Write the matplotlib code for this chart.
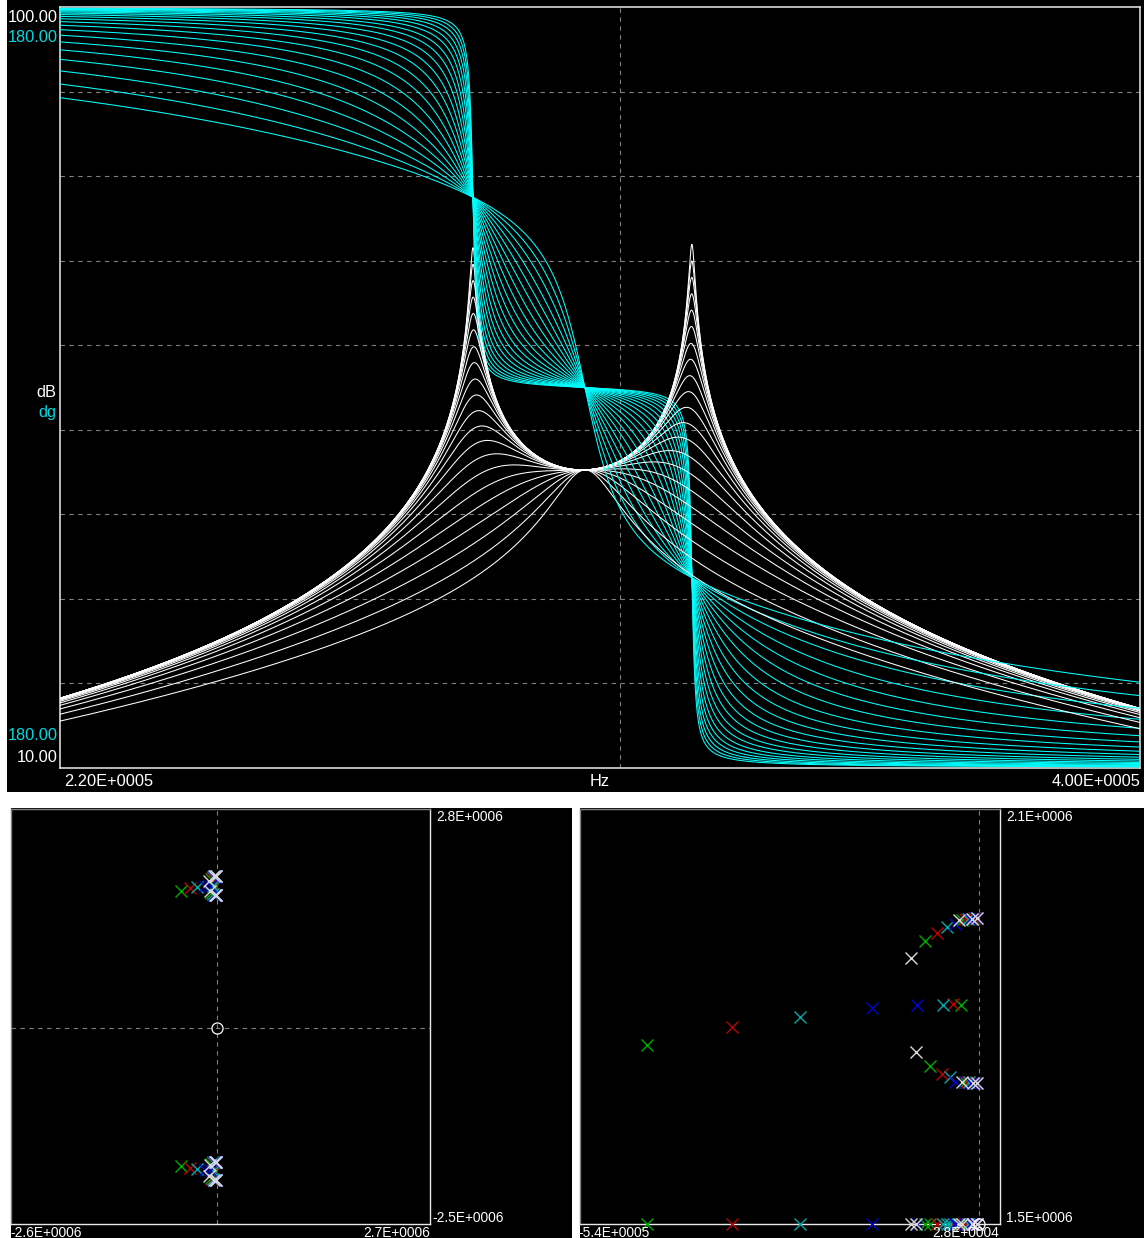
#!/usr/bin/env python3
"""Resonator sweep: magnitude/phase family plus pole maps."""

import numpy as np
import matplotlib

matplotlib.use("Agg")
import matplotlib.pyplot as plt
from matplotlib.patches import Rectangle

plt.rcParams["font.family"] = ["Liberation Sans", "DejaVu Sans"]

# ---- top panel: response family (frequencies) ----
F_START, F_STOP, F_GRID = 2.2e5, 4.0e5, 3.0e5      # Hz
W_LOW, W_HIGH, W_MID = 1.7373, 1.9612, 1.8484      # Mrad/s: peaks and fixed point
GAIN = 9.17                                        # sets 45 dB at the fixed point
# damping of each curve (Mrad/s), read from the phase spread at the left edge
DAMPING = [0.0106, 0.0133, 0.0166, 0.0208, 0.026, 0.0325, 0.041, 0.051,
           0.064, 0.080, 0.100, 0.125, 0.156, 0.195, 0.244, 0.305, 0.38,
           0.475, 0.60, 0.76, 0.957]
DB_RANGE = (10, 100)
DEG_RANGE = (-180, 180)

# ---- bottom panels: poles (rad/s), upper half plane, by colour ----
WHITE_RE = [-91.7e3, -27.8e3, -10e3, -3e3, -86e3, -24e3, -9e3, -3e3]
WHITE_IM = [1.885e6, 1.939e6, 1.941e6, 1.942e6, 1.748e6, 1.706e6, 1.704e6, 1.704e6]
GREEN_RE = [-73.8e3, -23e3, -8e3, -66.7e3, -20e3, -7.5e3, -450e3, -25e3]
GREEN_IM = [1.909e6, 1.940e6, 1.941e6, 1.728e6, 1.705e6, 1.704e6, 1.759e6, 1.817e6]
RED_RE = [-57.8e3, -19e3, -6.5e3, -50e3, -17e3, -6e3, -335e3, -36e3]
RED_IM = [1.921e6, 1.941e6, 1.942e6, 1.717e6, 1.705e6, 1.704e6, 1.785e6, 1.818e6]
CYAN_RE = [-44.3e3, -15.5e3, -5e3, -40e3, -14e3, -5e3, -242e3, -49e3]
CYAN_IM = [1.929e6, 1.941e6, 1.942e6, 1.713e6, 1.705e6, 1.704e6, 1.800e6, 1.817e6]
BLUE_RE = [-32.8e3, -12.5e3, -4e3, -32.8e3, -11.5e3, -4e3, -145e3, -84e3]
BLUE_IM = [1.934e6, 1.941e6, 1.942e6, 1.706e6, 1.704e6, 1.704e6, 1.812e6, 1.816e6]
ZERO_RE, ZERO_IM = [0.0], [0.0]

FULL_X, FULL_Y = (-2.6e6, 2.7e6), (-2.5e6, 2.8e6)
ZOOM_X, ZOOM_Y = (-5.4e5, 2.8e4), (1.5e6, 2.1e6)

W, H = 1144, 1238
GRID = dict(color="#808080", linewidth=0.8, linestyle=(0, (4, 4)))
CYAN_TXT = "#00d8e0"


def box(x0, y0, x1, y1):
    """pixel box -> figure fraction rect"""
    return [x0 / W, 1 - y1 / H, (x1 - x0) / W, (y1 - y0) / H]


def label(fig, x, y, s, color="white", size=11.8, ha="left"):
    fig.text(x / W, 1 - y / H, s, color=color, fontsize=size, ha=ha, va="center")


def style_frame(ax, light="#e8e8e8", dark="#808080"):
    ax.set_facecolor("black")
    ax.set_xticks([])
    ax.set_yticks([])
    for side in ("top", "left"):
        ax.spines[side].set_color(dark)
    for side in ("bottom", "right"):
        ax.spines[side].set_color(light)
    for sp in ax.spines.values():
        sp.set_linewidth(1.0)


fig = plt.figure(figsize=(W / 100, H / 100), dpi=100, facecolor="white")
for rect in (box(7, 0, 1144, 792), box(11, 808, 572, 1238), box(580, 808, 1144, 1238)):
    fig.patches.append(Rectangle(rect[:2], rect[2], rect[3], transform=fig.transFigure,
                                 facecolor="black", edgecolor="none", zorder=-5))

# ---------------- top: magnitude + phase ----------------
ax = fig.add_axes(box(60, 7, 1140, 768))
ax.set_facecolor("black")
ax.set_xscale("log")
ax.set_xlim(F_START, F_STOP)
ax.set_ylim(*DB_RANGE)
ax.set_yticks(np.arange(20, 100, 10))
ax.set_xticks([F_GRID])
ax.minorticks_off()
ax.tick_params(length=0, labelleft=False, labelbottom=False)
ax.grid(True, **GRID)
for sp in ax.spines.values():
    sp.set_color("#d8d8d8")
    sp.set_linewidth(1.2)

ax_ph = ax.twinx()
ax_ph.set_ylim(*DEG_RANGE)
ax_ph.axis("off")

freq = np.geomspace(F_START, F_STOP, 4000)
s = 1j * 2 * np.pi * freq / 1e6
for i, g in enumerate(DAMPING):
    den = (s**2 + W_LOW**2) * (s**2 + W_HIGH**2) + g * s * (s**2 + W_MID**2)
    resp = GAIN * s**2 / den
    mag = 20 * np.log10(np.abs(resp))
    ph = np.degrees(np.angle(resp))
    ax.plot(freq, mag, color="white", linewidth=0.75, zorder=3 + 2 * i)
    ax.plot(freq, ph, color="#00ffff", linewidth=0.75, zorder=4 + 2 * i,
            transform=ax_ph.transData)

label(fig, 58, 17, "100.00", ha="right")
label(fig, 58, 38, "180.00", color=CYAN_TXT, ha="right")
label(fig, 56, 392, "dB", ha="right")
label(fig, 56, 413, "dg", color=CYAN_TXT, ha="right")
label(fig, 58, 736, "180.00", color=CYAN_TXT, ha="right")
label(fig, 58, 758, "10.00", ha="right")
label(fig, 64, 781, "2.20E+0005")
label(fig, 600, 781, "Hz", ha="center")
label(fig, 1141, 781, "4.00E+0005", ha="right")

# ---------------- bottom: pole maps ----------------
groups = [
    (GREEN_RE, GREEN_IM, "#00a800"),
    (RED_RE, RED_IM, "#b80000"),
    (CYAN_RE, CYAN_IM, "#00a8a8"),
    (BLUE_RE, BLUE_IM, "#0000d0"),
    (WHITE_RE, WHITE_IM, "#d8d8d8"),
]


def pole_map(ax, xlim, ylim):
    style_frame(ax)
    ax.set_xlim(*xlim)
    ax.set_ylim(*ylim)
    ax.axvline(0, zorder=1, **GRID)
    ax.axhline(np.clip(0, *ylim), zorder=1, **GRID)
    for re, im, c in groups:
        re = np.array(re)
        im = np.array(im)
        xs = np.concatenate([re, re])
        ys = np.clip(np.concatenate([im, -im]), *ylim)
        ax.plot(xs, ys, "x", color=c, markersize=9, markeredgewidth=1.0,
                linestyle="none", clip_on=False, zorder=3)
    ax.plot(ZERO_RE, np.clip(ZERO_IM, *ylim), "o", markerfacecolor="none",
            markeredgecolor="white", markersize=8, markeredgewidth=0.9,
            clip_on=False, zorder=4)


ax_full = fig.add_axes(box(11, 809, 430, 1224))
pole_map(ax_full, FULL_X, FULL_Y)
label(fig, 436, 817, "2.8E+0006", size=9.9)
label(fig, 432, 1218, "-2.5E+0006", size=9.9)
label(fig, 10, 1233, "-2.6E+0006", size=9.9)
label(fig, 430, 1233, "2.7E+0006", size=9.9, ha="right")

ax_zoom = fig.add_axes(box(580, 809, 1000, 1224))
pole_map(ax_zoom, ZOOM_X, ZOOM_Y)
label(fig, 1006, 817, "2.1E+0006", size=9.9)
label(fig, 1006, 1218, "1.5E+0006", size=9.9)
label(fig, 578, 1233, "-5.4E+0005", size=9.9)
label(fig, 999, 1233, "2.8E+0004", size=9.9, ha="right")

fig.savefig("out.png", dpi=100, facecolor="white")
